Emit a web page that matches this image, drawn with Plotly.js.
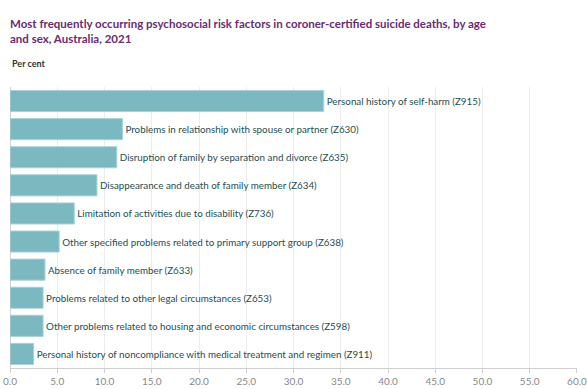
<!DOCTYPE html>
<html>
<head>
<meta charset="utf-8">
<script src="https://cdn.plot.ly/plotly-3.0.1.min.js"></script>
<style>html,body{margin:0;padding:0;background:#fff;}#chart{width:587px;height:389px;}</style>
</head>
<body>
<div id="chart"></div>
<script>
const categories = [
  "Personal history of self-harm (Z915)",
  "Problems in relationship with spouse or partner (Z630)",
  "Disruption of family by separation and divorce (Z635)",
  "Disappearance and death of family member (Z634)",
  "Limitation of activities due to disability (Z736)",
  "Other specified problems related to primary support group (Z638)",
  "Absence of family member (Z633)",
  "Problems related to other legal circumstances (Z653)",
  "Other problems related to housing and economic circumstances (Z598)",
  "Personal history of noncompliance with medical treatment and regimen (Z911)"
];
const values = [33.2, 11.9, 11.3, 9.2, 6.8, 5.2, 3.7, 3.5, 3.5, 2.5];
const tickVals = [0, 5, 10, 15, 20, 25, 30, 35, 40, 45, 50, 55, 60];
const tickLabels = ["0.0", "5.0", "10.0", "15.0", "20.0", "25.0", "30.0", "35.0", "40.0", "45.0", "50.0", "55.0", "60.0"];

const trace = {
  type: 'bar',
  orientation: 'h',
  x: values,
  y: categories,
  text: categories,
  textposition: 'outside',
  constraintext: 'none',
  cliponaxis: false,
  textfont: {family: 'Lato, sans-serif', size: 9.8, color: '#1f4e50'},
  marker: {color: '#7bb8c0', line: {color: '#a9d2d7', width: 1}},
  hoverinfo: 'x+y'
};

const layout = {
  width: 587, height: 389,
  margin: {l: 10, r: 10, t: 87, b: 21},
  paper_bgcolor: '#fff', plot_bgcolor: '#fff',
  bargap: 0.25,
  showlegend: false,
  title: {
    text: 'Most frequently occurring psychosocial risk factors in coroner-certified suicide deaths, by age<br>and sex, Australia, 2021',
    x: 10/587, xanchor: 'left', xref: 'container',
    y: 1 - 28/389, yanchor: 'top', yref: 'container',
    font: {family: 'Lato, sans-serif', size: 11.5, color: '#6a2c70', weight: 'bold'}
  },
  annotations: [{
    text: '<b>Per cent</b>', xref: 'paper', yref: 'paper', x: 0, y: 1, xanchor: 'left', yanchor: 'bottom',
    yshift: 16, showarrow: false, font: {family: 'Lato, sans-serif', size: 9, color: '#333'}
  }],
  xaxis: {
    range: [-0.001, 60.001], tickvals: tickVals, ticktext: tickLabels,
    ticklabeloverflow: 'allow',
    showgrid: true, gridcolor: '#ececec', gridwidth: 1,
    zeroline: true, zerolinecolor: '#d0d0d0',
    showline: true, linecolor: '#d0d0d0', linewidth: 1,
    ticks: 'outside', ticklen: 4, tickcolor: '#d0d0d0',
    tickfont: {family: 'Lato, sans-serif', size: 10, color: '#888'}
  },
  yaxis: {
    autorange: 'reversed', showticklabels: false, showgrid: false, zeroline: false, ticks: ''
  }
};

Plotly.newPlot('chart', [trace], layout, {displayModeBar: false, staticPlot: true});
</script>
</body>
</html>
